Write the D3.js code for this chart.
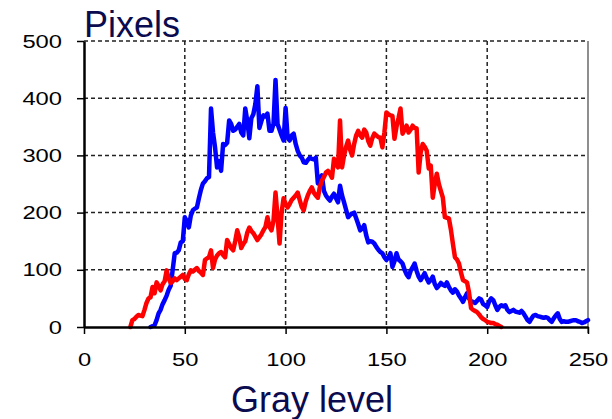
<!DOCTYPE html>
<html>
<head>
<meta charset="utf-8">
<script src="https://cdn.jsdelivr.net/npm/d3@7"></script>
<style>
  body { margin: 0; background: #fff; }
  svg { display: block; font-family: "Liberation Sans", Arial, sans-serif; }
</style>
</head>
<body>
<svg id="chart" width="612" height="419"></svg>
<script>
// Axis ticks
var xTicks = [0, 50, 100, 150, 200, 250];
var yTicks = [0, 100, 200, 300, 400, 500];

// Blue histogram (gray level -> pixel count)
var blueLevels = d3.range(33, 251).filter(function(d) { return d != 34; });
var blueCounts = [0, 3, 12, 24, 30, 40, 47, 55, 65, 72, 100, 129, 130, 134, 148, 150, 192, 185, 174, 195,
  204, 207, 209, 225, 240, 251, 255, 260, 262, 382, 340, 314, 279, 290, 273, 320, 318, 322, 361, 355,
  343, 345, 350, 355, 340, 335, 382, 360, 330, 365, 372, 390, 421, 348, 360, 370, 368, 373, 343, 343,
  355, 432, 355, 345, 335, 326, 383, 331, 326, 335, 338, 320, 308, 300, 296, 288, 287, 292, 296, 294,
  293, 296, 251, 260, 265, 238, 230, 225, 221, 228, 233, 225, 218, 247, 230, 218, 205, 192, 196, 198,
  200, 190, 180, 169, 172, 178, 160, 148, 150, 149, 146, 140, 135, 131, 129, 122, 117, 122, 129, 105,
  115, 129, 118, 115, 111, 100, 92, 87, 98, 104, 111, 98, 88, 82, 88, 94, 85, 78, 82, 88,
  75, 68, 72, 77, 74, 72, 78, 70, 64, 60, 66, 62, 55, 50, 44, 52, 59, 50, 45, 44,
  42, 46, 50, 48, 40, 38, 35, 45, 50, 47, 38, 30, 35, 38, 36, 38, 30, 26, 28, 30,
  27, 26, 25, 28, 24, 18, 12, 9, 15, 20, 21, 19, 18, 17, 16, 17, 16, 12, 9, 15,
  20, 24, 14, 9, 10, 9, 9, 10, 11, 12, 12, 10, 9, 7, 8, 10, 12];

// Red histogram
var redLevels = d3.range(23, 208);
var redCounts = [0, 12, 14, 18, 21, 20, 19, 30, 42, 50, 52, 70, 59, 78, 72, 64, 75, 80, 99, 85,
  77, 80, 85, 82, 85, 88, 91, 84, 82, 92, 99, 97, 100, 103, 98, 95, 91, 117, 120, 122,
  134, 103, 118, 125, 129, 131, 126, 122, 152, 145, 138, 134, 150, 169, 157, 138, 145, 150, 165, 174,
  168, 164, 158, 152, 157, 162, 169, 175, 192, 175, 169, 186, 235, 192, 146, 200, 225, 215, 209, 215,
  222, 226, 230, 235, 222, 210, 204, 220, 230, 238, 244, 235, 230, 226, 245, 256, 262, 270, 273, 268,
  261, 294, 285, 279, 361, 279, 300, 315, 326, 310, 300, 320, 335, 343, 335, 331, 345, 340, 325, 317,
  330, 338, 335, 332, 331, 314, 340, 375, 372, 370, 369, 329, 350, 365, 382, 338, 345, 352, 340, 345,
  352, 348, 347, 270, 305, 320, 315, 308, 277, 282, 226, 250, 268, 250, 238, 226, 192, 191, 190, 170,
  145, 122, 118, 111, 95, 82, 80, 78, 60, 33, 30, 28, 26, 22, 17, 14, 12, 9, 8, 7,
  7, 5, 4, 2, 0];

var svg = d3.select("#chart");
var plotLeft = 84, plotRight = 588, plotTop = 41, plotBottom = 327;

var x = d3.scaleLinear().domain([0, 250]).range([plotLeft, plotRight]);
var y = d3.scaleLinear().domain([0, 500]).range([plotBottom, plotTop]);

// Dashed grid
svg.append("g")
    .selectAll("line")
    .data(xTicks.filter(function(d) { return d > 0 && d < 250; }))
    .enter().append("line")
    .attr("x1", function(d) { return x(d); })
    .attr("x2", function(d) { return x(d); })
    .attr("y1", plotTop).attr("y2", plotBottom)
    .attr("stroke", "#222").attr("stroke-width", 1.5)
    .attr("stroke-dasharray", "4,3");

svg.append("g")
    .selectAll("line")
    .data(yTicks.filter(function(d) { return d > 0; }))
    .enter().append("line")
    .attr("x1", plotLeft).attr("x2", plotRight)
    .attr("y1", function(d) { return y(d); })
    .attr("y2", function(d) { return y(d); })
    .attr("stroke", "#222").attr("stroke-width", 1.5)
    .attr("stroke-dasharray", "4,3");

// Right border
svg.append("line")
    .attr("x1", plotRight).attr("x2", plotRight)
    .attr("y1", plotTop).attr("y2", plotBottom + 6)
    .attr("stroke", "#444").attr("stroke-width", 1.2);

// Curves
var line = d3.line()
    .x(function(d) { return x(d[0]); })
    .y(function(d) { return y(d[1]); });

function drawSeries(levels, counts, color)
{
    var pts = levels.map(function(l, i) { return [l, counts[i]]; });
    svg.append("path")
        .datum(pts)
        .attr("d", line)
        .attr("fill", "none")
        .attr("stroke", color)
        .attr("stroke-width", 4.5)
        .attr("stroke-linejoin", "round")
        .attr("stroke-linecap", "round");
}
drawSeries(blueLevels, blueCounts, "#0000ff");
drawSeries(redLevels, redCounts, "#ff0000");

// Axes
var yAxis = svg.append("g")
    .attr("transform", "translate(" + plotLeft + ",0)")
    .call(d3.axisLeft(y).tickValues(yTicks).tickSize(7).tickPadding(15).tickSizeOuter(0));
var xAxis = svg.append("g")
    .attr("transform", "translate(0," + plotBottom + ")")
    .call(d3.axisBottom(x).tickValues(xTicks).tickSize(7).tickPadding(19).tickSizeOuter(0));

[yAxis, xAxis].forEach(function(ax) {
    ax.attr("font-size", 19).attr("font-family", "Liberation Sans, Arial, sans-serif");
    ax.select(".domain").attr("stroke", "#000").attr("stroke-width", 2.5);
    ax.selectAll(".tick line").attr("stroke", "#000").attr("stroke-width", 1.5);
    // the reference digits are drawn wider than plain Arial
    ax.selectAll(".tick text")
        .attr("fill", "#000")
        .attr("textLength", function(d) { return String(d).length * 13.2; })
        .attr("lengthAdjust", "spacingAndGlyphs");
});

// Titles
svg.append("text")
    .attr("x", 84).attr("y", 37)
    .attr("fill", "#0b0b50")
    .style("font-size", "36px")
    .text("Pixels");

svg.append("text")
    .attr("x", 312).attr("y", 412)
    .attr("text-anchor", "middle")
    .attr("fill", "#0b0b50")
    .style("font-size", "36px")
    .text("Gray level");
</script>
</body>
</html>
